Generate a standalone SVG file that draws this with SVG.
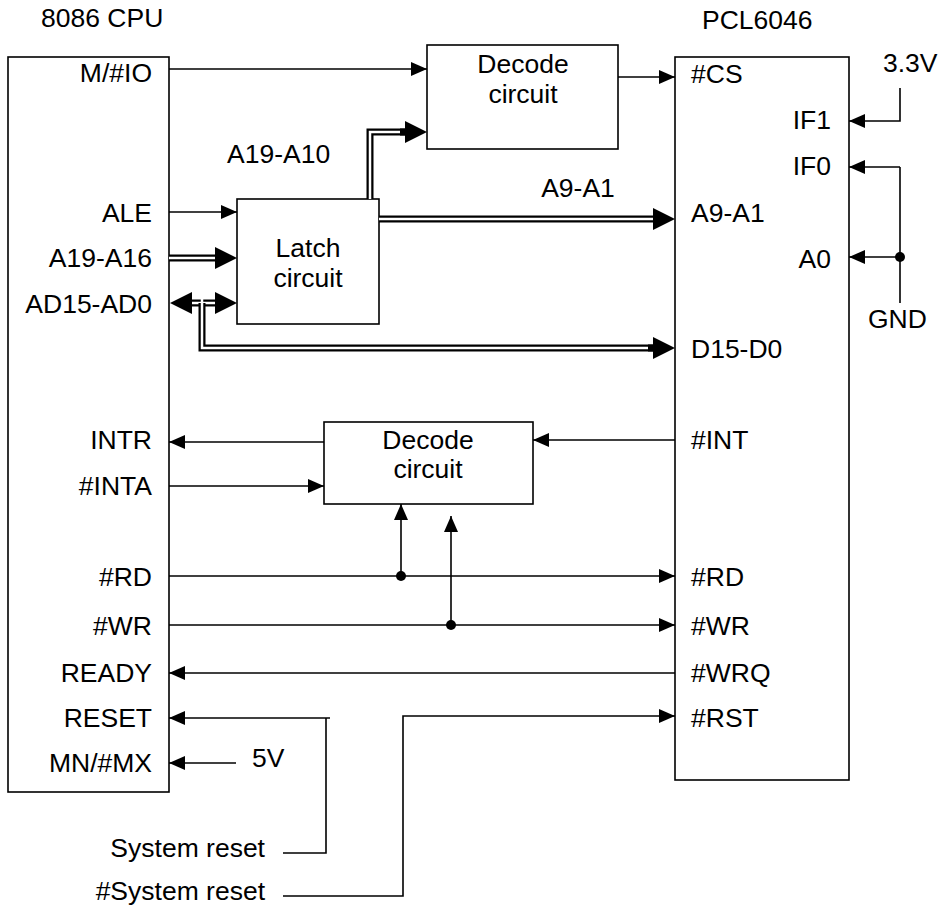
<svg xmlns="http://www.w3.org/2000/svg" width="939" height="908" viewBox="0 0 939 908">
<style>
text{font-family:"Liberation Sans",Arial,sans-serif;font-size:26.5px;fill:#000}
.r{text-anchor:end}
.m{text-anchor:middle}
.box{fill:#fff;stroke:#000;stroke-width:1.6}
.w{fill:none;stroke:#000;stroke-width:1.6}
.a{marker-end:url(#ah)}
.bus{fill:none;stroke:#000;stroke-width:7}
.busin{fill:none;stroke:#fff;stroke-width:2.5}
.bA{marker-end:url(#bh)}
.dot{fill:#000}
</style>
<defs>
<marker id="ah" markerUnits="userSpaceOnUse" markerWidth="16" markerHeight="14" refX="16" refY="7" orient="auto" overflow="visible"><path d="M0,0 L16,7 L0,14 z" fill="#000"/></marker>
<marker id="bh" markerUnits="userSpaceOnUse" markerWidth="22" markerHeight="22" refX="0" refY="11" orient="auto" overflow="visible"><path d="M0,0 L22,11 L0,22 z" fill="#000"/></marker>
</defs>

<g id="cpu">
<rect class="box" x="8" y="57" width="161" height="735"/>
<text x="41" y="27">8086 CPU</text>
<text class="r" x="152" y="82">M/#IO</text>
<text class="r" x="152" y="222">ALE</text>
<text class="r" x="152" y="267">A19-A16</text>
<text class="r" x="152" y="313">AD15-AD0</text>
<text class="r" x="152" y="449">INTR</text>
<text class="r" x="152" y="495">#INTA</text>
<text class="r" x="152" y="586">#RD</text>
<text class="r" x="152" y="635">#WR</text>
<text class="r" x="152" y="682">READY</text>
<text class="r" x="152" y="727">RESET</text>
<text class="r" x="152" y="772">MN/#MX</text>
</g>

<g id="pcl">
<rect class="box" x="675" y="57" width="174" height="723"/>
<text x="702" y="29">PCL6046</text>
<text x="691" y="83">#CS</text>
<text x="691" y="222">A9-A1</text>
<text x="691" y="358">D15-D0</text>
<text x="691" y="449">#INT</text>
<text x="691" y="586">#RD</text>
<text x="691" y="635">#WR</text>
<text x="691" y="682">#WRQ</text>
<text x="691" y="727">#RST</text>
<text class="r" x="831" y="129">IF1</text>
<text class="r" x="831" y="175">IF0</text>
<text class="r" x="831" y="268">A0</text>
</g>

<g id="decode1">
<rect class="box" x="427" y="45" width="191" height="104"/>
<text class="m" x="523" y="73">Decode</text>
<text class="m" x="523" y="103">circuit</text>
</g>

<g id="latch">
<rect class="box" x="237" y="199" width="142" height="125"/>
<text class="m" x="308" y="257">Latch</text>
<text class="m" x="308" y="287">circuit</text>
</g>

<g id="decode2">
<rect class="box" x="324" y="422" width="209" height="82"/>
<text class="m" x="428" y="449">Decode</text>
<text class="m" x="428" y="478">circuit</text>
</g>

<g id="labels">
<text x="227" y="163">A19-A10</text>
<text class="m" x="578" y="197">A9-A1</text>
<text x="883" y="72">3.3V</text>
<text x="868" y="328">GND</text>
<text x="252" y="767">5V</text>
<text class="r" x="265" y="857">System reset</text>
<text class="r" x="265" y="900">#System reset</text>
</g>

<g id="connectors">
<path class="w a" d="M169,69 H427"/>
<path class="w a" d="M618,77 H675"/>
<path class="w a" d="M169,212 H237"/>
<path class="w a" d="M900,88 V121 H849"/>
<path class="w a" d="M900,167 H849"/>
<path class="w" d="M900,167 V303"/>
<path class="w a" d="M900,257 H849"/>
<circle class="dot" cx="900" cy="257" r="5"/>
<path class="w a" d="M324,442 H169"/>
<path class="w a" d="M169,486 H324"/>
<path class="w a" d="M675,440 H533"/>
<path class="w a" d="M169,576 H675"/>
<path class="w a" d="M169,625 H675"/>
<path class="w a" d="M401,576 V504"/>
<path class="w a" d="M451,625 V516"/>
<circle class="dot" cx="401" cy="576" r="5"/>
<circle class="dot" cx="451" cy="625" r="5"/>
<path class="w a" d="M675,673 H169"/>
<path class="w a" d="M330,718 H169"/>
<path class="w" d="M326,718 V853 H283"/>
<path class="w a" d="M283,896 H403 V716 H675"/>
<path class="w a" d="M236,763 H169"/>
<path class="bus bA" d="M169,258 H215"/>
<path class="busin" d="M169,258 H215"/>
<path class="bus" d="M370,199 V132 H405"/>
<path class="busin" d="M370,199 V132 H405"/>
<path class="bus bA" d="M400,132 H405"/>
<path class="bus bA" d="M379,219 H653"/>
<path class="busin" d="M379,219 H653"/>
<path class="bus" d="M192,303 H215"/>
<path class="busin" d="M192,303 H215"/>
<path d="M192,292 L170,303 L192,314 z" fill="#000"/>
<path d="M215,292 L237,303 L215,314 z" fill="#000"/>
<path class="bus" d="M202,303 V348 H653"/>
<path class="busin" d="M202,299 V348 H653"/>
<path class="bus bA" d="M648,348 H653"/>
</g>
</svg>
